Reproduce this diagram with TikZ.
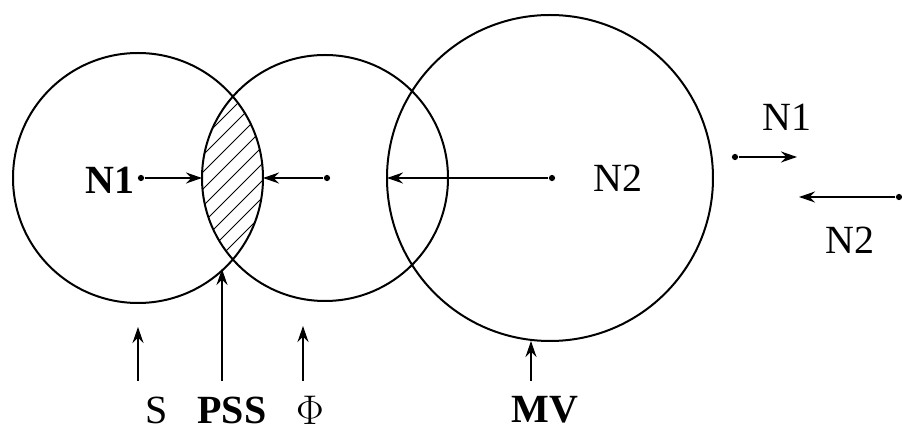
\documentclass[tikz,border=0pt]{standalone}
\usepackage{fontspec}
\setmainfont{Liberation Serif}
\usetikzlibrary{arrows.meta}
\tikzset{
  ring/.style={draw, circle, line width=1pt, inner sep=0pt, outer sep=0pt},
  hub/.style={circle, fill, inner sep=1.1pt},
  lbl/.style={font=\fontsize{20}{24}\selectfont\bfseries},
  plainlbl/.style={font=\fontsize{20}{24}\selectfont},
  ray/.style={-{Stealth[length=8pt,width=5.5pt]}, line width=0.8pt},
  hatch/.style={line width=0.4pt}
}
\begin{document}
\begin{tikzpicture}[x=0.5pt, y=-0.5pt]
    \useasboundingbox (0,0) rectangle (902,432);

    % Circles
    \node[ring, minimum size=125pt] (c1) at (138,178) {};
    \node[ring, minimum size=123pt] (c2) at (325,178) {};
    \node[ring, minimum size=163pt] (c3) at (550,178) {};

    % Hatched overlap
    \begin{scope}
        \clip (138,178) circle[radius=125];
        \clip (325,178) circle[radius=123];
        \foreach \c in {290,307,...,520} {
            \draw[hatch] (\c-300,300) -- (\c-80,80);
        }
    \end{scope}

    % Centres and radii
    \node[lbl] (n1) at (110,180) {N1};
    \node[hub] (h1) at (141,178) {};
    \node[hub] (h2) at (327,178) {};
    \node[hub] (h3) at (552,178) {};
    \node[plainlbl] (n2) at (618,178) {N2};
    \draw[ray] (h1) -- (c2.west);
    \draw[ray] (h2) -- (c1.east);
    \draw[ray] (h3) -- (c3.west);

    % Bottom labels
    \node[plainlbl] (s) at (157,410) {S};
    \node[lbl] (pss) at (232,410) {PSS};
    \node[plainlbl] (phi) at (310,410) {$\Phi$};
    \node[lbl] (mv) at (545,410) {MV};
    \coordinate (s0) at (138,381);
    \coordinate (s1) at (138,327);
    \coordinate (p0) at (222,381);
    \coordinate (p1) at (222,269);
    \coordinate (f0) at (303,381);
    \coordinate (f1) at (303,326);
    \coordinate (m0) at (531,381);
    \coordinate (m1) at (531,341);
    \draw[ray] (s0) -- (s1);
    \draw[ray] (p0) -- (p1);
    \draw[ray] (f0) -- (f1);
    \draw[ray] (m0) -- (m1);

    % Legend
    \node[plainlbl] (k1) at (787,117) {N1};
    \node[hub] (k1a) at (735,157) {};
    \coordinate (k1b) at (797,157);
    \draw[ray] (k1a) -- (k1b);
    \node[hub] (k2a) at (899,197) {};
    \coordinate (k2b) at (799,197);
    \draw[ray] (k2a) -- (k2b);
    \node[plainlbl] (k2) at (850,240) {N2};
\end{tikzpicture}
\end{document}
